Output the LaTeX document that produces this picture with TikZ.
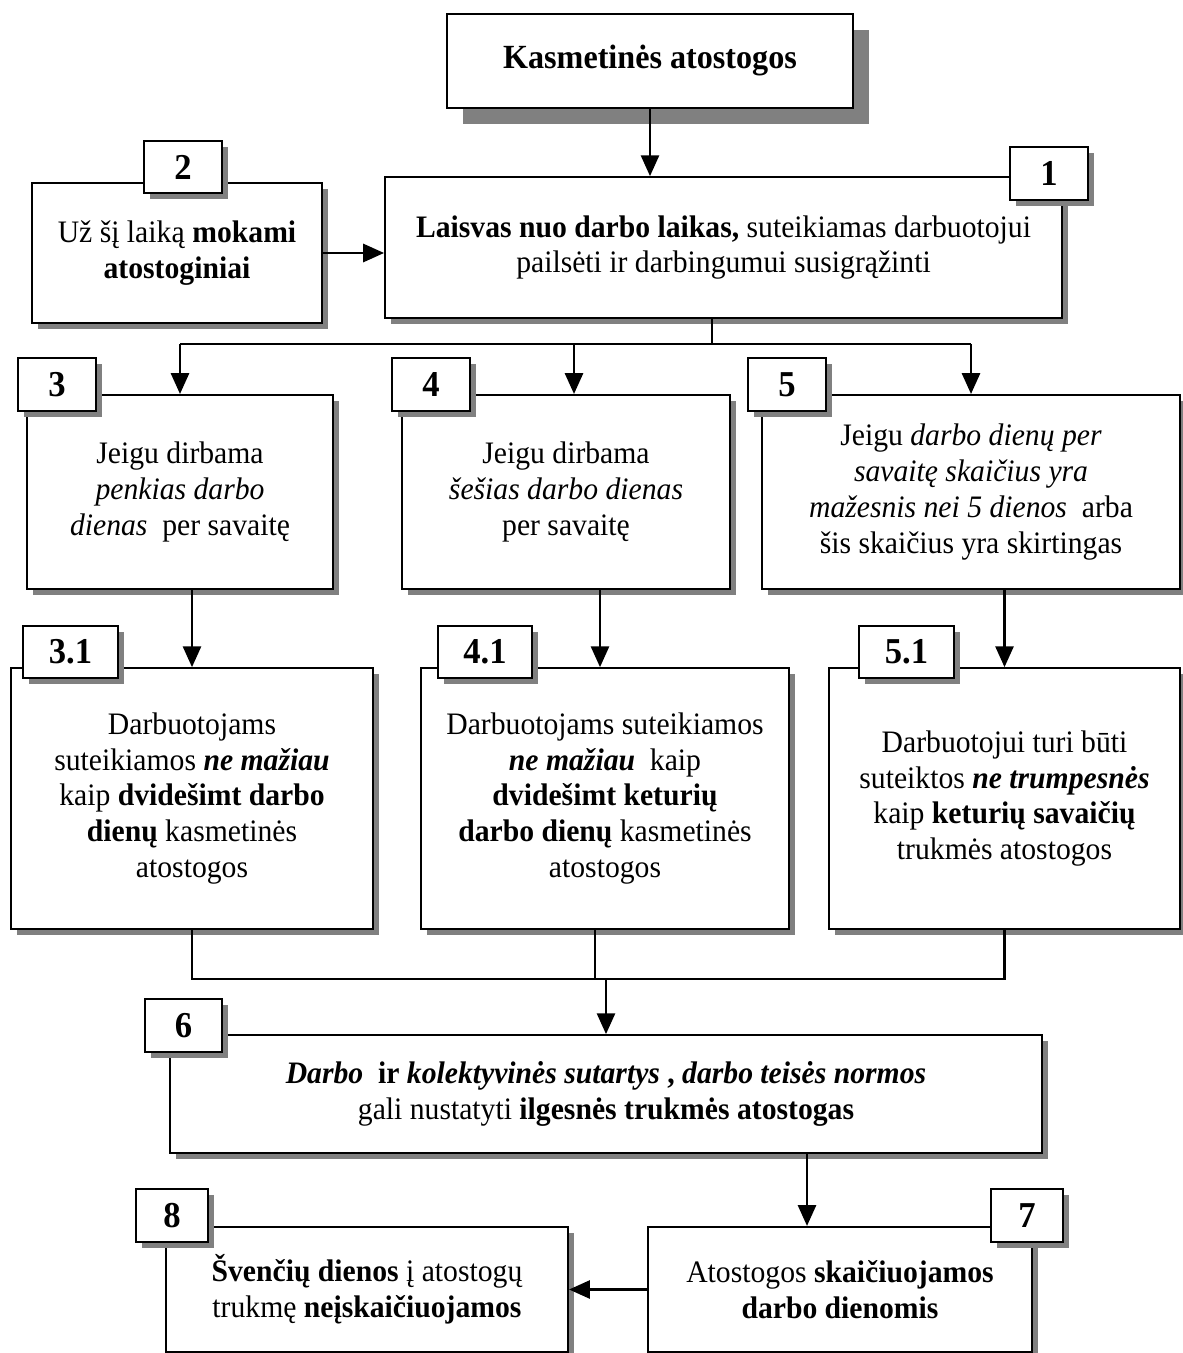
\documentclass[tikz,border=0pt]{standalone}
\usepackage{fontspec}
\setmainfont{Liberation Serif}[FakeStretch=0.95]
\usetikzlibrary{calc,shadows,arrows.meta}

\begin{document}
\begin{tikzpicture}[x=0.0135cm, y=-0.0135cm,
    every node/.style={font=\fontsize{12pt}{13.8pt}\selectfont, align=center, inner sep=2pt},
    box/.style={draw, line width=0.8pt, fill=white,
        drop shadow={shadow xshift=#1, shadow yshift=-#1, fill=black!50, opacity=1}},
    box/.default=2.3pt,
    numbox/.style={box, minimum width=1.05cm, minimum height=0.71cm,
        font=\fontsize{14pt}{16pt}\selectfont\bfseries},
    link/.style={line width=0.8pt},
    arr/.style={line width=0.8pt, -{Triangle[length=8pt,width=7pt]}}]
    \useasboundingbox (0,0) rectangle (1182,1353);

    % boxes
    \node[box=6pt, minimum width=5.48cm, minimum height=1.27cm,
        font=\fontsize{13pt}{15pt}\selectfont\bfseries] at (650,61) (top) {Kasmetinės atostogos};
    \node[box, minimum width=9.14cm, minimum height=1.90cm] at (723.5,247.5) (b1)
        {\textbf{Laisvas nuo darbo laikas,} suteikiamas darbuotojui\\ pailsėti ir darbingumui susigrąžinti};
    \node[box, minimum width=3.92cm, minimum height=1.89cm] at (177,253) (b2)
        {Už šį laiką \textbf{mokami}\\ \textbf{atostoginiai}};
    \node[box, minimum width=4.13cm, minimum height=2.62cm] at (180,492) (b3)
        {Jeigu dirbama\\ \textit{penkias darbo}\\ \textit{dienas}~ per savaitę};
    \node[box, minimum width=4.43cm, minimum height=2.62cm] at (566,492) (b4)
        {Jeigu dirbama\\ \textit{šešias darbo dienas}\\ per savaitę};
    \node[box, minimum width=5.64cm, minimum height=2.62cm] at (971,492) (b5)
        {Jeigu \textit{darbo dienų per}\\ \textit{savaitę skaičius yra}\\ \textit{mažesnis nei 5 dienos}~ arba\\ šis skaičius yra skirtingas};
    \node[box, minimum width=4.89cm, minimum height=3.52cm] at (192,798.5) (b31)
        {Darbuotojams\\ suteikiamos \textbf{\textit{ne mažiau}}\\ kaip \textbf{dvidešimt darbo}\\ \textbf{dienų} kasmetinės\\ atostogos};
    \node[box, minimum width=4.97cm, minimum height=3.52cm] at (605,798.5) (b41)
        {Darbuotojams suteikiamos\\ \textbf{\textit{ne mažiau}}~ kaip\\ \textbf{dvidešimt keturių}\\ \textbf{darbo dienų} kasmetinės\\ atostogos};
    \node[box, minimum width=4.74cm, minimum height=3.52cm] at (1004.5,798.5) (b51)
        {Darbuotojui turi būti\\ suteiktos \textbf{\textit{ne trumpesnės}}\\ kaip \textbf{keturių savaičių}\\ trukmės atostogos};
    \node[box, minimum width=11.77cm, minimum height=1.59cm] at (606,1094) (b6)
        {\textbf{\textit{Darbo}}~ \textbf{ir} \textbf{\textit{kolektyvinės sutartys}} \textbf{,} \textbf{\textit{darbo teisės normos}}\\ gali nustatyti \textbf{ilgesnės trukmės atostogas}};
    \node[box, minimum width=5.18cm, minimum height=1.69cm] at (840,1289.5) (b7)
        {Atostogos \textbf{skaičiuojamos}\\ \textbf{darbo dienomis}};
    \node[box, minimum width=5.43cm, minimum height=1.69cm] at (367,1289.5) (b8)
        {\textbf{Švenčių dienos} į atostogų\\ trukmę \textbf{neįskaičiuojamos}};

    % numbers
    \node[numbox] at (1049,173.5) (n1) {1};
    \node[numbox] at (183,167) (n2) {2};
    \node[numbox] at (57,384.5) (n3) {3};
    \node[numbox] at (431,384.5) (n4) {4};
    \node[numbox] at (787,384.5) (n5) {5};
    \node[numbox, minimum width=1.28cm] at (70.5,652) (n31) {3.1};
    \node[numbox, minimum width=1.28cm] at (485,652) (n41) {4.1};
    \node[numbox, minimum width=1.28cm] at (906.5,652) (n51) {5.1};
    \node[numbox] at (183.5,1025.5) (n6) {6};
    \node[numbox, minimum width=0.97cm] at (1027,1215.5) (n7) {7};
    \node[numbox, minimum width=0.97cm] at (172,1215.5) (n8) {8};

    % connectors
    \draw[arr] (top.south) -- (top.south |- b1.north);
    \draw[arr] (b2.east) -- (b2.east -| b1.west);
    \coordinate (fork) at (712,344);
    \draw[link] (b1.south -| fork) -- (fork);
    \draw[link] (b3.north |- fork) -- (b5.north |- fork);
    \coordinate (a4) at ($(b4.north)+(8,0)$);
    \draw[arr] (b3.north |- fork) -- (b3.north);
    \draw[arr] (a4 |- fork) -- (a4);
    \draw[arr] (b5.north |- fork) -- (b5.north);
    \draw[arr] (b31.north |- b3.south) -- (b31.north);
    \coordinate (a41) at ($(b41.north)+(-5,0)$);
    \draw[arr] (a41 |- b4.south) -- (a41);
    \draw[arr] (b51.north |- b5.south) -- (b51.north);
    \coordinate (join) at (606,979);
    \coordinate (m4) at ($(b41.south)+(-10,0)$);
    \draw[link] (b31.south) |- (b51.south |- join) -- (b51.south);
    \draw[link] (m4) -- (m4 |- join);
    \draw[arr] (join) -- (b6.north);
    \coordinate (a7) at ($(b7.north)+(-33,0)$);
    \draw[arr] (a7 |- b6.south) -- (a7);
    \draw[arr] (b7.west) -- (b8.east);
\end{tikzpicture}
\end{document}
